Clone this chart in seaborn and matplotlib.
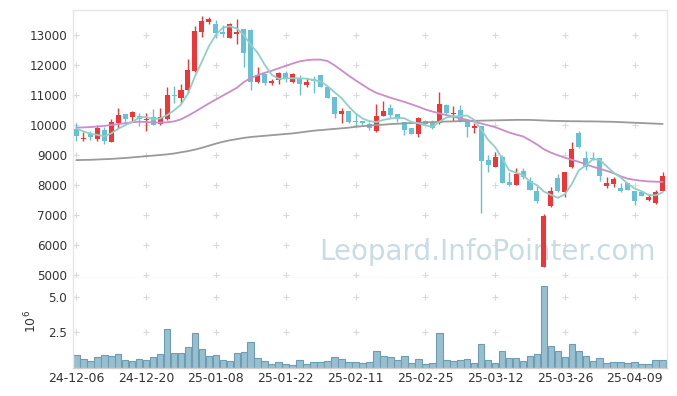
import numpy as np
import pandas as pd
import matplotlib
matplotlib.use("Agg")
import matplotlib.pyplot as plt
import seaborn as sns

dates = (["24-12-06", "24-12-09", "24-12-10", "24-12-11", "24-12-12", "24-12-13", "24-12-16", "24-12-17",
          "24-12-18", "24-12-19", "24-12-20", "24-12-23", "24-12-24", "24-12-26", "24-12-27", "24-12-30",
          "25-01-02", "25-01-03", "25-01-06", "25-01-07", "25-01-08", "25-01-09", "25-01-10", "25-01-13",
          "25-01-14", "25-01-15", "25-01-16", "25-01-17", "25-01-20", "25-01-21", "25-01-22", "25-01-23",
          "25-01-24", "25-01-31", "25-02-03", "25-02-04", "25-02-05", "25-02-06", "25-02-07", "25-02-10",
          "25-02-11", "25-02-12", "25-02-13", "25-02-14", "25-02-17", "25-02-18", "25-02-19", "25-02-20",
          "25-02-21", "25-02-24", "25-02-25", "25-02-26", "25-02-27", "25-02-28", "25-03-04", "25-03-05",
          "25-03-06", "25-03-07", "25-03-10", "25-03-11", "25-03-12", "25-03-13", "25-03-14", "25-03-17",
          "25-03-18", "25-03-19", "25-03-20", "25-03-21", "25-03-24", "25-03-25", "25-03-26", "25-03-27",
          "25-03-28", "25-03-31", "25-04-01", "25-04-02", "25-04-03", "25-04-04", "25-04-07", "25-04-08",
          "25-04-09", "25-04-10", "25-04-11", "25-04-14", "25-04-15"])

opens = [9870, 9530, 9690, 9520, 9810, 9430, 10070, 10350, 10270, 10290,
         10150, 10270, 10010, 10180, 10990, 10880, 11160, 11790, 13090, 13420,
         13360, 13090, 12900, 13020, 13190, 13160, 11430, 11680, 11400, 11490,
         11710, 11430, 11550, 11330, 11520, 11660, 11270, 10930, 10350, 10440,
         10120, 10120, 10020, 9800, 10300, 10570, 10360, 10080, 9900, 9690,
         10130, 10100, 10050, 10660, 10350, 10490, 10120, 9900, 9940, 8820,
         8600, 8910, 8080, 7990, 8470, 8120, 7790, 5250, 7290, 8210,
         7770, 8580, 9710, 8880, 8880, 8880, 7940, 8020, 7900, 8070,
         7790, 7770, 7490, 7380, 7800]

closes = [9620, 9560, 9580, 9890, 9440, 10080, 10320, 10190, 10410, 10180,
          10180, 10000, 10250, 10990, 10960, 11160, 11820, 13130, 13460, 13520,
          13050, 13010, 13360, 13100, 12400, 11430, 11660, 11380, 11460, 11710,
          11510, 11680, 11360, 11420, 11470, 11270, 10900, 10350, 10440, 10100,
          10100, 10050, 9900, 10290, 10460, 10320, 10180, 9820, 9690, 10210,
          10020, 9880, 10690, 10380, 10400, 10120, 9930, 9970, 8800, 8660,
          8910, 8070, 7990, 8360, 8270, 7820, 7470, 6940, 7800, 7790,
          8410, 9180, 9240, 8580, 8850, 8300, 8070, 8190, 7800, 7820,
          7470, 7620, 7580, 7750, 8290]

highs = [10040, 9750, 9800, 9990, 9930, 10180, 10545, 10360, 10467, 10400,
         10380, 10520, 10560, 11245, 11290, 11350, 12179, 13290, 13620, 13600,
         13490, 13320, 13380, 13510, 13190, 13180, 11934, 11700, 11523, 11768,
         11790, 11712, 11657, 11568, 11624, 11657, 11268, 10935, 10546, 10435,
         10379, 10124, 10102, 10679, 10790, 10679, 10357, 10080, 9902, 10246,
         10150, 10150, 11079, 10690, 10624, 10657, 10124, 10046, 9935, 8990,
         9101, 8990, 8435, 8546, 8546, 8268, 7957, 7013, 7912, 8357,
         8412, 9435, 9801, 9135, 9101, 8879, 8268, 8268, 8046, 8068,
         7790, 7768, 7690, 7824, 8435]

lows = [9470, 9470, 9490, 9457, 9350, 9420, 9880, 10100, 10101, 9950,
        9800, 9975, 10000, 10157, 10730, 10712, 11045, 11770, 12934, 13356,
        12879, 12934, 12879, 12679, 11934, 11156, 11400, 11323, 11323, 11356,
        11434, 11400, 10990, 11245, 11068, 11268, 10880, 10213, 10046, 10068,
        9935, 9990, 9824, 9768, 10290, 10213, 10102, 9657, 9691, 9602,
        9990, 9850, 10012, 10323, 10124, 10101, 9601, 9735, 7068, 8435,
        8579, 8068, 7957, 7990, 8190, 7824, 7402, 5246, 7268, 7768,
        7601, 8546, 9212, 8490, 8824, 8135, 7879, 7935, 7768, 7824,
        7323, 7624, 7468, 7357, 7801]

volume_m = [0.88, 0.60, 0.46, 0.74, 0.88, 0.84, 0.95, 0.53, 0.46, 0.60,
            0.53, 0.74, 0.95, 2.71, 1.02, 1.02, 1.44, 2.43, 1.30, 0.81,
            0.88, 0.53, 0.46, 1.02, 1.09, 1.79, 0.67, 0.46, 0.25, 0.39,
            0.25, 0.18, 0.53, 0.25, 0.39, 0.39, 0.46, 0.74, 0.60, 0.39,
            0.39, 0.34, 0.39, 1.16, 0.81, 0.74, 0.53, 0.81, 0.32, 0.60,
            0.25, 0.32, 2.43, 0.53, 0.46, 0.53, 0.60, 0.32, 1.65, 0.53,
            0.32, 1.16, 0.67, 0.67, 0.46, 0.81, 0.95, 5.73, 1.51, 1.16,
            0.74, 1.65, 1.16, 0.81, 0.46, 0.67, 0.32, 0.39, 0.39, 0.32,
            0.39, 0.25, 0.25, 0.53, 0.53]

ma_short = [9870, 9780, 9700, 9660, 9618, 9710, 9862, 9984, 10088, 10236,
            10256, 10192, 10204, 10320, 10476, 10672, 11036, 11612, 12106, 12618,
            12996, 13234, 13280, 13208, 12984, 12660, 12390, 11994, 11666, 11528,
            11544, 11548, 11544, 11536, 11488, 11440, 11284, 11082, 10886, 10612,
            10378, 10208, 10118, 10088, 10160, 10204, 10230, 10214, 10094, 10044,
            9984, 9924, 10098, 10236, 10274, 10294, 10304, 10160, 9844, 9496,
            9254, 8882, 8486, 8398, 8320, 8102, 7982, 7772, 7660, 7564,
            7682, 8024, 8484, 8640, 8852, 8830, 8608, 8398, 8242, 8036,
            7870, 7780, 7658, 7648, 7742]

ma_mid = [9900, 9910, 9920, 9940, 9960, 9990, 10020, 10050, 10080, 10100,
          10090, 10075, 10070, 10080, 10110, 10180, 10300, 10430, 10570, 10710,
          10840, 10970, 11100, 11230, 11420, 11560, 11650, 11730, 11800, 11880,
          11960, 12040, 12110, 12150, 12170, 12170, 12120, 11980, 11810, 11640,
          11480, 11330, 11180, 11060, 10980, 10900, 10830, 10760, 10680, 10600,
          10510, 10440, 10380, 10320, 10270, 10210, 10160, 10100, 10040, 9980,
          9920, 9830, 9740, 9670, 9610, 9480, 9340, 9180, 9070, 8980,
          8900, 8830, 8760, 8680, 8600, 8530, 8460, 8380, 8280, 8200,
          8160, 8130, 8110, 8100, 8090]

ma_long = [8820, 8825, 8830, 8840, 8850, 8860, 8875, 8890, 8910, 8930,
           8950, 8970, 8990, 9010, 9040, 9080, 9120, 9170, 9230, 9300,
           9370, 9430, 9480, 9520, 9560, 9590, 9610, 9630, 9650, 9670,
           9690, 9710, 9740, 9770, 9800, 9820, 9840, 9860, 9880, 9900,
           9930, 9950, 9970, 9990, 10000, 10020, 10030, 10045, 10055, 10065,
           10075, 10085, 10095, 10105, 10110, 10120, 10125, 10130, 10135, 10140,
           10145, 10150, 10155, 10160, 10160, 10160, 10150, 10140, 10130, 10125,
           10120, 10115, 10115, 10110, 10110, 10105, 10100, 10095, 10085, 10075,
           10065, 10055, 10045, 10035, 10025]

price_ticks = [5000, 6000, 7000, 8000, 9000, 10000, 11000, 12000, 13000]
vol_ticks = [2.5, 5.0]

RED = "#ef3636"
TEAL = "#67c1d6"
VOL_FILL = "#98bfcf"
VOL_EDGE = "#6d9db3"
C_SHORT = "#8fcfc8"
C_MID = "#cc8ccc"
C_LONG = "#9a9a9a"
GRID = "#d9d9d9"
FRAME = "#e6e6e6"
TXT = "#333333"

sns.set_theme(style="white")
plt.rcParams["font.family"] = ["DejaVu Sans"]

df = pd.DataFrame({"date": dates, "open": opens, "close": closes, "high": highs,
                   "low": lows, "vol": volume_m, "ma5": ma_short, "ma20": ma_mid,
                   "ma60": ma_long})
df["i"] = np.arange(len(df))
n = len(df)

fig = plt.figure(figsize=(6.77, 3.96), dpi=100)
W, H = 677.0, 396.0
L, R = 73.3 / W, 667.3 / W
axp = fig.add_axes([L, 1 - 278.3 / H, R - L, (278.3 - 10) / H])
axv = fig.add_axes([L, 1 - 367.9 / H, R - L, (367.9 - 278.3) / H])

# watermark
axp.text(487 / W, 1 - 252 / H, "Leopard.InfoPointer.com", transform=fig.transFigure,
         ha="center", va="center", fontsize=20, color="#c8dce6", zorder=0.2)

# grid crosses
gx = list(range(0, n, 10))
for x in gx:
    for y in price_ticks:
        axp.plot(x, y, marker="+", ms=5, mew=0.8, color=GRID, zorder=0.3)
    for y in vol_ticks:
        axv.plot(x, y, marker="+", ms=5, mew=0.8, color=GRID, zorder=0.3)

# candles
up = df["close"] >= df["open"]
cols = np.where(up, RED, TEAL)
axp.vlines(df["i"], df["low"], df["high"], colors=cols, lw=1.0, zorder=2)
bottom = np.minimum(df["open"], df["close"])
height = np.maximum((df["close"] - df["open"]).abs(), 25)
axp.bar(df["i"], height, bottom=bottom, width=0.72, color=cols, linewidth=0, zorder=3)

# moving averages
sns.lineplot(data=df, x="i", y="ma60", ax=axp, color=C_LONG, lw=1.3, zorder=4)
sns.lineplot(data=df, x="i", y="ma20", ax=axp, color=C_MID, lw=1.3, zorder=4)
sns.lineplot(data=df, x="i", y="ma5", ax=axp, color=C_SHORT, lw=1.3, zorder=4)

# volume
sns.barplot(data=df, x="i", y="vol", ax=axv, color=VOL_FILL, edgecolor=VOL_EDGE,
            linewidth=0.8, width=0.95, saturation=1, zorder=2)

xl = (-0.43, 84.67)
axp.set_xlim(*xl)
axv.set_xlim(*xl)
axp.set_ylim(4880, 13823)
axv.set_ylim(0, 6.29)

axp.set_xticks(gx)
axp.set_xticklabels([])
axp.set_yticks(price_ticks)
axp.set_yticklabels([str(t) for t in price_ticks], fontsize=8.6, color=TXT)
axv.set_xticks(gx)
axv.set_xticklabels([dates[k] for k in gx], fontsize=9, color=TXT)
axv.set_yticks(vol_ticks)
axv.set_yticklabels(["2.5", "5.0"], fontsize=8.6, color=TXT)
for a in (axp, axv):
    a.tick_params(length=0, pad=4.5)
    a.set_xlabel("")
axp.set_ylabel("")
axv.tick_params(axis="x", pad=3)
axv.set_ylabel("$10^6$", fontsize=9, color=TXT)
axv.yaxis.set_label_coords(-0.058, 0.52)

for a in (axp, axv):
    for s in a.spines.values():
        s.set_color(FRAME)
        s.set_linewidth(1.0)
axv.spines["top"].set_visible(False)
axv.spines["bottom"].set_color("#cfcfcf")

fig.savefig("out.png", dpi=100)
